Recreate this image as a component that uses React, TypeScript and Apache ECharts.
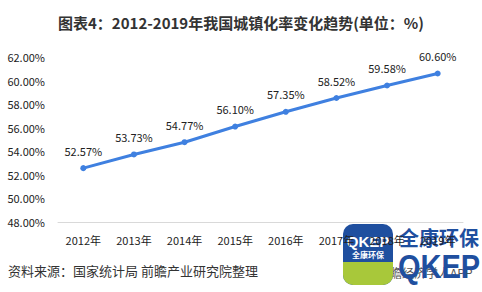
import React, { useEffect, useRef } from "react";
import * as echarts from "echarts";

const categories = ["2012年", "2013年", "2014年", "2015年", "2016年", "2017年", "2018年", "2019年"];
const values = [52.57, 53.73, 54.77, 56.1, 57.35, 58.52, 59.58, 60.6];
const titleText = "图表4：2012-2019年我国城镇化率变化趋势(单位：%)";
const sourceText = "资料来源：国家统计局 前瞻产业研究院整理";

export default function App() {
  const ref = useRef<HTMLDivElement>(null);
  useEffect(() => {
    const chart = echarts.init(ref.current!, null, { renderer: "svg" });
    const font = "'Microsoft YaHei', 'Noto Sans CJK SC', sans-serif";
    chart.setOption({
      animation: false,
      backgroundColor: "#ffffff",
      textStyle: { fontFamily: font },
      title: {
        text: titleText,
        left: "center",
        top: 10,
        textStyle: { fontSize: 15, fontWeight: "bold", color: "#333333", fontFamily: font },
      },
      grid: { left: 58, right: 19, top: 57, bottom: 70 },
      xAxis: {
        type: "category",
        data: categories,
        boundaryGap: true,
        axisLine: { lineStyle: { color: "#d9d9d9", width: 1 } },
        axisTick: { show: false },
        axisLabel: { color: "#222222", fontSize: 11, margin: 12, fontFamily: font },
      },
      yAxis: {
        type: "value",
        min: 48,
        max: 62,
        interval: 2,
        splitLine: { show: false },
        axisLine: { show: false },
        axisTick: { show: false },
        axisLabel: {
          color: "#222222",
          fontSize: 11,
          margin: 13,
          fontFamily: font,
          formatter: (v: number) => v.toFixed(2) + "%",
        },
      },
      series: [
        {
          type: "line",
          data: values,
          symbol: "circle",
          symbolSize: 6,
          lineStyle: { color: "#3f80e0", width: 3 },
          itemStyle: { color: "#3f80e0" },
          label: {
            show: true,
            position: "top",
            distance: 9,
            color: "#222222",
            fontSize: 11,
            fontFamily: font,
            formatter: (p: any) => p.value.toFixed(2) + "%",
          },
        },
      ],
      graphic: [
        {
          type: "text",
          left: 8,
          top: 264,
          style: { text: sourceText, fontSize: 13, fill: "#333333", fontFamily: font },
        },
        {
          type: "text",
          left: 378,
          top: 266,
          style: { text: "前瞻经济学人APP", fontSize: 12, fill: "#555555", fontFamily: font },
        },
        {
          type: "rect",
          shape: { x: 343, y: 224, width: 50, height: 61, r: 10 },
          style: { fill: "#1f4f9f" },
        },
        {
          type: "rect",
          shape: { x: 343, y: 262, width: 50, height: 23, r: [0, 0, 10, 10] },
          style: { fill: "#a8c83a" },
        },
        {
          type: "text",
          x: 368,
          y: 241,
          style: {
            text: "QKEP",
            fontSize: 15,
            fontWeight: "bold",
            fill: "#ffffff",
            align: "center",
            verticalAlign: "middle",
            fontFamily: "Arial, 'Liberation Sans', sans-serif",
          },
        },
        {
          type: "text",
          x: 368,
          y: 254,
          style: {
            text: "全康环保",
            fontSize: 8,
            fontWeight: "bold",
            fill: "#ffffff",
            align: "center",
            verticalAlign: "middle",
            fontFamily: font,
          },
        },
        {
          type: "text",
          x: 439,
          y: 237,
          style: {
            text: "全康环保",
            fontSize: 20,
            fontWeight: "bold",
            fill: "#1f4f9f",
            align: "center",
            verticalAlign: "middle",
            fontFamily: font,
          },
        },
        {
          type: "text",
          x: 439,
          y: 267,
          scaleY: 1.15,
          style: {
            text: "QKEP",
            fontSize: 29,
            fontWeight: "bold",
            fill: "#1f4f9f",
            align: "center",
            verticalAlign: "middle",
            fontFamily: "Arial, 'Liberation Sans', sans-serif",
          },
        },
      ],
    });
    return () => chart.dispose();
  }, []);
  return <div ref={ref} style={{ width: 482, height: 292, position: "absolute", left: 0, top: 0 }} />;
}
